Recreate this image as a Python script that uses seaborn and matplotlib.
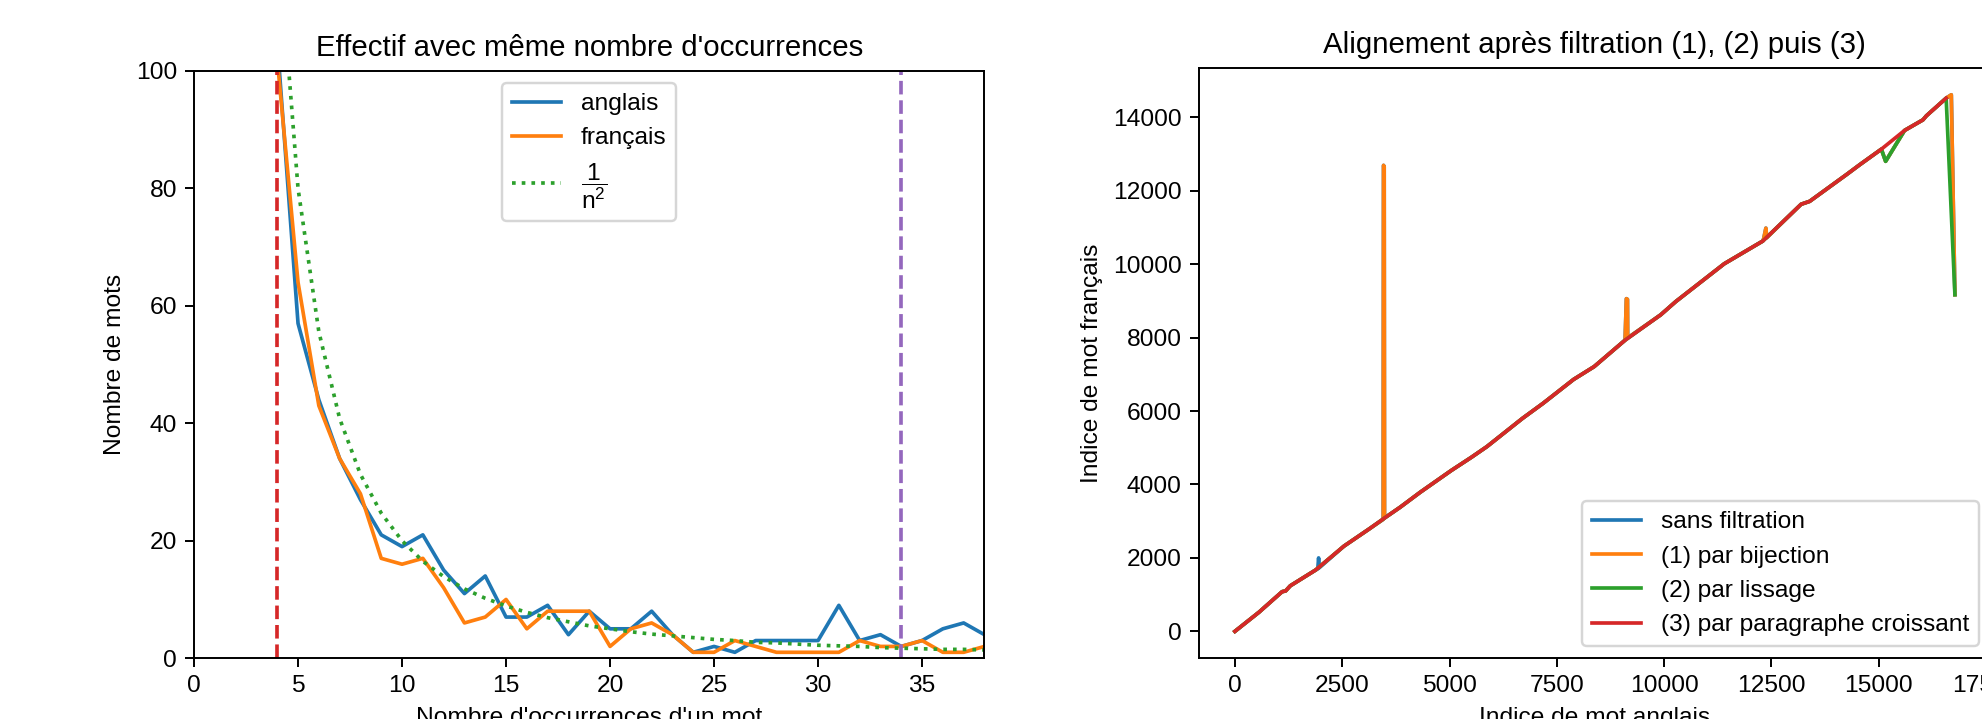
import matplotlib
matplotlib.use("Agg")
import matplotlib.pyplot as plt
import seaborn as sns

# --- donnees : effectif avec meme nombre d'occurrences ---
occurrences = list(range(4, 39))
anglais = [105, 57, 44, 34, 27, 21, 19, 21, 15, 11, 14, 7, 7, 9, 4, 8, 5, 5, 8, 4,
           1, 2, 1, 3, 3, 3, 3, 9, 3, 4, 2, 3, 5, 6, 4]
francais = [102, 64, 43, 34, 28, 17, 16, 17, 12, 6, 7, 10, 5, 8, 8, 8, 2, 5, 6, 4,
            1, 1, 3, 2, 1, 1, 1, 1, 3, 2, 2, 3, 1, 1, 2]
inv_n2 = [125.0, 80.0, 55.6, 40.8, 31.3, 24.7, 20.0, 16.5, 13.9, 11.8, 10.2, 8.9, 7.8,
          6.9, 6.2, 5.5, 5.0, 4.5, 4.1, 3.8, 3.5, 3.2, 3.0, 2.7, 2.6, 2.4, 2.2, 2.1,
          2.0, 1.8, 1.7, 1.6, 1.5, 1.5, 1.4]
seuil_bas = 4
seuil_haut = 34

# --- donnees : alignement (indice anglais -> indice francais) ---
# (3) par paragraphe croissant : le tronc commun
para_x = [0, 560, 1100, 1180, 1290, 1880, 2540, 3130, 3490, 3850, 4320, 5040, 5510,
          5870, 6700, 7180, 7890, 8370, 9080, 9920, 10270, 11400, 12300, 13190, 13390,
          14250, 14560, 15060, 15600, 16030, 16110, 16570]
para_y = [0, 520, 1080, 1100, 1240, 1670, 2320, 2790, 3090, 3380, 3790, 4380, 4740,
          5030, 5800, 6210, 6860, 7210, 7920, 8620, 8980, 10010, 10630, 11630, 11710,
          12440, 12710, 13130, 13640, 13930, 14040, 14520]
# points retires par (3) mais encore presents apres (2)
lissage_x = [15160, 16774]
lissage_y = [12800, 9168]
# points retires par (2) mais encore presents apres (1)
bijection_x = [3455, 3462, 3478, 3485, 9090, 9120, 9145, 9150, 12320, 12370, 12390, 16690]
bijection_y = [3050, 12690, 12650, 3080, 7940, 9060, 9040, 7990, 10700, 10980, 10720, 14612]
# points retires par (1)
brut_x = [1930, 1950, 1965]
brut_y = [1700, 2000, 1730]


def merge(*parts):
    pts = sorted(p for xs, ys in parts for p in zip(xs, ys))
    return [p[0] for p in pts], [p[1] for p in pts]


croissant = (para_x, para_y)
lisse = merge(croissant, (lissage_x, lissage_y))
biject = merge(lisse, (bijection_x, bijection_y))
sans = merge(biject, (brut_x, brut_y))

plt.rcParams['font.family'] = ['Liberation Sans', 'DejaVu Sans']
plt.rcParams['mathtext.fontset'] = 'custom'
plt.rcParams['mathtext.rm'] = 'Liberation Sans'
plt.rcParams['mathtext.it'] = 'Liberation Sans'
plt.rcParams['mathtext.default'] = 'regular'

dpi = 176
fig = plt.figure(figsize=(1982 / dpi, 719 / dpi), dpi=dpi)
ax1 = fig.add_axes([0.0979, 0.0846, 0.3988, 0.8167])
ax2 = fig.add_axes([0.6049, 0.0846, 0.3996, 0.8209])

# gauche
sns.lineplot(x=occurrences, y=anglais, ax=ax1, color='tab:blue', label='anglais',
             estimator=None, sort=False)
sns.lineplot(x=occurrences, y=francais, ax=ax1, color='tab:orange', label='français',
             estimator=None, sort=False)
sns.lineplot(x=occurrences, y=inv_n2, ax=ax1, color='tab:green', linestyle=':',
             label=r'$\dfrac{1}{n^2}$', estimator=None, sort=False)
ax1.axvline(seuil_bas, color='tab:red', linestyle='--')
ax1.axvline(seuil_haut, color='tab:purple', linestyle='--')
ax1.set_xlim(0, 38)
ax1.set_ylim(0, 100)
ax1.set_title("Effectif avec même nombre d'occurrences")
ax1.set_xlabel("Nombre d'occurrences d'un mot")
ax1.set_ylabel("Nombre de mots")
ax1.legend(loc='upper center')

# droite
series = [(sans, 'sans filtration', 'tab:blue'),
          (biject, '(1) par bijection', 'tab:orange'),
          (lisse, '(2) par lissage', 'tab:green'),
          (croissant, '(3) par paragraphe croissant', 'tab:red')]
for (xs, ys), lab, col in series:
    sns.lineplot(x=xs, y=ys, ax=ax2, color=col, label=lab, estimator=None, sort=False)
ax2.set_title("Alignement après filtration (1), (2) puis (3)")
ax2.set_xlabel("Indice de mot anglais")
ax2.set_ylabel("Indice de mot français")
ax2.legend(loc='lower right')

fig.savefig('out.png', dpi=dpi)
